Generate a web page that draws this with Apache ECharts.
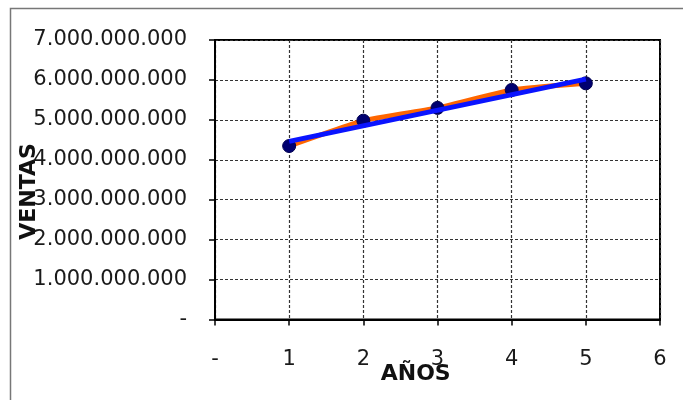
<!DOCTYPE html>
<html>
<head>
<meta charset="utf-8">
<script src="https://cdn.jsdelivr.net/npm/echarts@6/dist/echarts.min.js"></script>
<style>
html,body{margin:0;padding:0;background:#fff;}
#c{width:683px;height:400px;}
</style>
</head>
<body>
<div id="c"></div>
<script>
// Data
var years = [1, 2, 3, 4, 5];
var ventas = [4345000000, 4980000000, 5300000000, 5750000000, 5915000000];
var trendYears = [1, 5];
var trendVentas = [4460000000, 6020000000];
var yTicks = [0, 1000000000, 2000000000, 3000000000, 4000000000, 5000000000, 6000000000, 7000000000];
var xTicks = [0, 1, 2, 3, 4, 5, 6];
var yTitle = 'VENTAS';
var xTitle = 'AÑOS';

function fmt(v) {
  if (v === 0) return '-';
  return String(Math.round(v)).replace(/\B(?=(\d{3})+(?!\d))/g, '.');
}

var chart = echarts.init(document.getElementById('c'), null, {renderer: 'canvas'});
var labelFont = 'DejaVu Sans';
chart.setOption({
  animation: false,
  backgroundColor: '#fff',
  grid: {
    left: 215, right: 23, top: 40, bottom: 80.5,
    show: true, borderColor: '#000', borderWidth: 2, backgroundColor: 'transparent'
  },
  xAxis: {
    type: 'value', min: xTicks[0], max: xTicks[xTicks.length - 1], interval: 1,
    axisLine: {show: true, lineStyle: {color: '#000', width: 2}},
    axisTick: {show: true, length: 6, lineStyle: {color: '#000', width: 1.5}},
    splitLine: {show: true, lineStyle: {color: '#333', width: 1.2, type: [3, 2]}},
    axisLabel: {
      margin: 30, fontSize: 21, fontFamily: labelFont, color: '#1a1a1a',
      formatter: function (v) { return fmt(v); }
    }
  },
  yAxis: {
    type: 'value', min: yTicks[0], max: yTicks[yTicks.length - 1], interval: 1000000000,
    axisLine: {show: true, lineStyle: {color: '#000', width: 2}},
    axisTick: {show: true, length: 6, lineStyle: {color: '#000', width: 1.5}},
    splitLine: {show: true, lineStyle: {color: '#333', width: 1.2, type: [3, 2]}},
    axisLabel: {
      margin: 28, fontSize: 21, fontFamily: labelFont, color: '#1a1a1a',
      formatter: function (v) { return fmt(v); }
    }
  },
  graphic: [
    {type: 'rect', shape: {x: 10.5, y: 8.5, width: 700, height: 420},
     style: {fill: 'none', stroke: '#777', lineWidth: 1.5}, silent: true, z: -10},
    {type: 'text', x: 29.5, y: 191.5, rotation: Math.PI / 2,
     style: {text: yTitle, font: 'bold 22px "DejaVu Sans"', fill: '#111', textAlign: 'center', textVerticalAlign: 'middle'}},
    {type: 'text', x: 415.7, y: 374,
     style: {text: xTitle, font: 'bold 22px "DejaVu Sans"', fill: '#111', textAlign: 'center', textVerticalAlign: 'middle'}}
  ],
  series: [
    {
      type: 'line', smooth: 0.12,
      data: years.map(function (x, i) { return [x, ventas[i]]; }),
      lineStyle: {color: '#ff6600', width: 5},
      symbol: 'circle', symbolSize: 13,
      itemStyle: {color: '#000070', borderColor: '#000050', borderWidth: 1},
      z: 2
    },
    {
      type: 'line',
      data: trendYears.map(function (x, i) { return [x, trendVentas[i]]; }),
      lineStyle: {color: '#0a14ff', width: 5},
      symbol: 'none',
      z: 3
    }
  ]
});
</script>
</body>
</html>
